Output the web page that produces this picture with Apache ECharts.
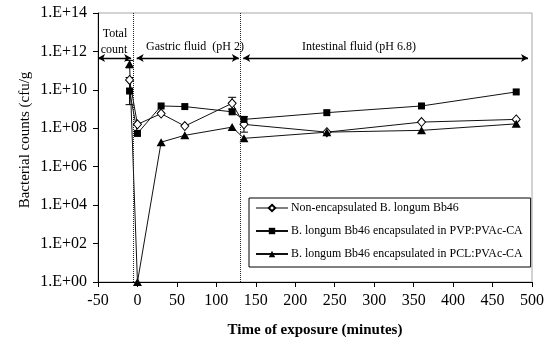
<!DOCTYPE html>
<html>
<head>
<meta charset="utf-8">
<script src="https://cdn.jsdelivr.net/npm/echarts@6/dist/echarts.min.js"></script>
<style>
  html, body { margin: 0; padding: 0; background: #fff; }
  #chart { width: 554px; height: 345px; }
</style>
</head>
<body>
<div id="chart"></div>
<script>
// Exposure times (minutes); -10 is the total count before exposure
const times = [-10, 0, 30, 60, 120, 135, 240, 360, 480];

// Bacterial counts (cfu/g)
const nonEncapsulated = [3.3e10, 1.6e8, 5.8e8, 1.3e8, 2.0e9, 1.6e8, 6.3e7, 2.1e8, 2.9e8];
const pvpEncapsulated = [8.7e9, 5.4e7, 1.45e9, 1.35e9, 7.2e8, 2.9e8, 6.5e8, 1.45e9, 7.8e9];
const pclEncapsulated = [2.2e11, 1, 1.9e7, 4.3e7, 1.15e8, 3.0e7, 6.3e7, 7.8e7, 1.7e8];

// Error bars: [time, low, high]
const errNon = [[120, 1.0e9, 4.1e9], [135, 6.3e7, 4.0e8]];
const errPvp = [[-10, 1.7e9, 4.4e10]];
const errPcl = [[-10, 1.4e11, 3.4e11]];

const seriesNames = [
  'Non-encapsulated B. longum Bb46',
  'B. longum Bb46 encapsulated in PVP:PVAc-CA',
  'B. longum Bb46 encapsulated in PCL:PVAc-CA'
];

// Y ticks: powers of ten, every second decade
const yTickExponents = [0, 2, 4, 6, 8, 10, 12, 14];
const yTickValues = yTickExponents.map(e => Math.pow(10, e));

// Phase boundaries and phase arrows
const phaseBoundaries = [-5, 130];
const arrowLevel = 4.5e11;
const phaseArrows = [[-50, -8], [-1, 128.5], [134, 495]];

const FONT = "'Liberation Serif', 'Times New Roman', serif";

function pad2(n) { return (n < 10 ? '0' : '') + n; }

function toXY(vals) { return times.map((t, i) => [t, vals[i]]); }

function errorSeries(data, color) {
  return {
    type: 'custom',
    silent: true,
    z: 1,
    data: data,
    encode: { x: 0, y: [1, 2] },
    renderItem: function (params, api) {
      const t = api.value(0);
      const lo = api.coord([t, api.value(1)]);
      const hi = api.coord([t, api.value(2)]);
      const w = 4;
      return {
        type: 'group',
        children: [
          { type: 'line', shape: { x1: lo[0], y1: lo[1], x2: hi[0], y2: hi[1] }, style: { stroke: color, lineWidth: 1 } },
          { type: 'line', shape: { x1: lo[0] - w, y1: lo[1], x2: lo[0] + w, y2: lo[1] }, style: { stroke: color, lineWidth: 1 } },
          { type: 'line', shape: { x1: hi[0] - w, y1: hi[1], x2: hi[0] + w, y2: hi[1] }, style: { stroke: color, lineWidth: 1 } }
        ]
      };
    }
  };
}

const chart = echarts.init(document.getElementById('chart'), null, { renderer: 'canvas' });

chart.setOption({
  animation: false,
  textStyle: { fontFamily: FONT, color: '#000' },
  grid: {
    left: 98, right: 22, top: 13, bottom: 63,
    show: true, borderColor: '#a6a6a6', borderWidth: 1, backgroundColor: 'transparent'
  },
  xAxis: {
    type: 'value',
    min: -50, max: 500, interval: 50,
    axisLine: { show: true, onZero: false, lineStyle: { color: '#000', width: 1 } },
    axisTick: { show: true, length: 5, lineStyle: { color: '#000' } },
    axisLabel: { fontSize: 16, fontFamily: FONT, color: '#000', margin: 11 },
    splitLine: { show: false },
    name: 'Time of exposure (minutes)',
    nameLocation: 'middle',
    nameGap: 41,
    nameTextStyle: { fontSize: 15, fontWeight: 'bold', fontFamily: FONT, color: '#000' }
  },
  yAxis: {
    type: 'log',
    logBase: 10,
    min: 1, max: 1e14,
    axisLine: { show: true, onZero: false, lineStyle: { color: '#000', width: 1 } },
    axisTick: { show: true, length: 5, customValues: yTickValues, lineStyle: { color: '#000' } },
    axisLabel: {
      fontSize: 16, fontFamily: FONT, color: '#000', margin: 11,
      customValues: yTickValues,
      formatter: function (v) {
        return '1.E+' + pad2(Math.round(Math.log10(v)));
      }
    },
    splitLine: { show: false }
  },
  legend: {
    orient: 'vertical',
    left: 249, top: 198,
    padding: [4, 8, 7, 6],
    itemGap: 11,
    itemWidth: 32, itemHeight: 8,
    backgroundColor: '#fff',
    borderColor: '#000', borderWidth: 1, borderRadius: 0,
    textStyle: { fontSize: 11.9, fontFamily: FONT, color: '#000', padding: [0, 0, 0, -2] },
    data: [
      { name: seriesNames[0], lineStyle: { color: '#808080' } },
      { name: seriesNames[1] },
      { name: seriesNames[2] }
    ]
  },
  graphic: [
    {
      type: 'text', x: 25, y: 140, rotation: Math.PI / 2,
      style: { text: 'Bacterial counts (cfu/g', font: '15px ' + FONT, fill: '#000', align: 'center', verticalAlign: 'middle' }
    },
    { type: 'text', x: 115, y: 34, style: { text: 'Total', font: '12px ' + FONT, fill: '#000', align: 'center', verticalAlign: 'middle' } },
    { type: 'text', x: 114, y: 50, style: { text: 'count', font: '12px ' + FONT, fill: '#000', align: 'center', verticalAlign: 'middle' } },
    { type: 'text', x: 195, y: 47, style: { text: 'Gastric fluid  (pH 2)', font: '12px ' + FONT, fill: '#000', align: 'center', verticalAlign: 'middle' } },
    { type: 'text', x: 359, y: 47, style: { text: 'Intestinal fluid (pH 6.8)', font: '12px ' + FONT, fill: '#000', align: 'center', verticalAlign: 'middle' } }
  ],
  series: [
    {
      name: seriesNames[0],
      type: 'line',
      data: toXY(nonEncapsulated),
      symbol: 'diamond', symbolSize: [8, 9],
      itemStyle: { color: '#fff', borderColor: '#000', borderWidth: 1 },
      lineStyle: { color: '#111', width: 1 },
      z: 3,
      markLine: {
        silent: true,
        symbol: ['none', 'none'],
        label: { show: false },
        lineStyle: { color: '#222', type: [1, 1], width: 1 },
        data: phaseBoundaries.map(b => ({ xAxis: b }))
      }
    },
    {
      name: seriesNames[1],
      type: 'line',
      data: toXY(pvpEncapsulated),
      symbol: 'rect', symbolSize: 7,
      itemStyle: { color: '#000' },
      lineStyle: { color: '#111', width: 1 },
      z: 3,
      markLine: {
        silent: true,
        symbol: ['arrow', 'arrow'],
        symbolSize: [6, 7],
        label: { show: false },
        lineStyle: { color: '#000', type: 'solid', width: 1.3 },
        data: phaseArrows.map(a => [{ coord: [a[0], arrowLevel] }, { coord: [a[1], arrowLevel] }])
      }
    },
    {
      name: seriesNames[2],
      type: 'line',
      data: toXY(pclEncapsulated),
      symbol: 'triangle', symbolSize: [9, 8],
      itemStyle: { color: '#000' },
      lineStyle: { color: '#111', width: 1 },
      z: 3
    },
    errorSeries(errNon, '#000'),
    errorSeries(errPvp, '#000'),
    errorSeries(errPcl, '#000')
  ]
});
</script>
</body>
</html>
